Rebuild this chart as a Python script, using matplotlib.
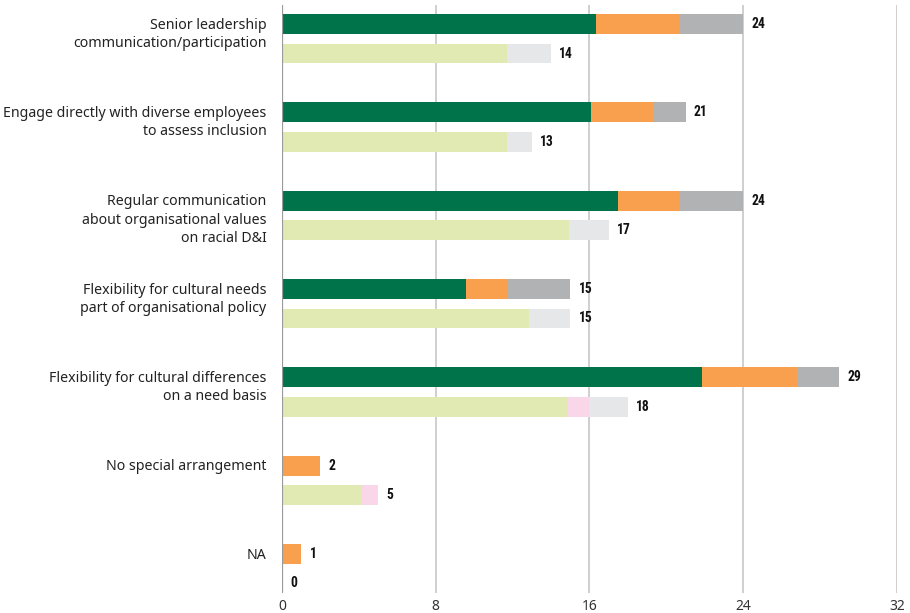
"""Stacked horizontal bars: inclusion practices, two rows per practice."""

import matplotlib

matplotlib.use("Agg")
import matplotlib.pyplot as plt

CATEGORIES = [
    "Senior leadership\ncommunication/participation",
    "Engage directly with diverse employees\nto assess inclusion",
    "Regular communication\nabout organisational values\non racial D&I",
    "Flexibility for cultural needs\npart of organisational policy",
    "Flexibility for cultural differences\non a need basis",
    "No special arrangement",
    "NA",
]

# upper row of each group
TOP_GREEN = [16.35, 16.07, 17.47, 9.57, 21.85, 0, 0]
TOP_ORANGE = [4.33, 3.24, 3.23, 2.18, 4.97, 2, 1]
TOP_GREY = [3.32, 1.69, 3.30, 3.25, 2.18, 0, 0]
TOP_TOTAL = [24, 21, 24, 15, 29, 2, 1]

# lower row of each group
LOW_GREEN = [11.72, 11.72, 14.93, 12.85, 14.90, 4.17, 0]
LOW_PINK = [0, 0, 0, 0, 1.05, 0.83, 0]
LOW_GREY = [2.28, 1.28, 2.07, 2.15, 2.05, 0, 0]
LOW_TOTAL = [14, 13, 17, 15, 18, 5, 0]

X_TICKS = [0, 8, 16, 24, 32]

C_GREEN = "#00734a"
C_ORANGE = "#f9a04f"
C_GREY = "#b0b2b4"
C_LGREEN = "#e0eab2"
C_PINK = "#fad7e8"
C_LGREY = "#e6e7e8"

BAR_H = 0.226
ROW_GAP = 0.334


def stack(ax, ys, parts, colors):
    left = [0.0] * len(ys)
    for vals, col in zip(parts, colors):
        ax.barh(ys, vals, height=BAR_H, left=left, color=col, linewidth=0)
        left = [a + b for a, b in zip(left, vals)]


def main() -> None:
    plt.rcParams["font.family"] = ["Noto Sans", "DejaVu Sans"]
    fig = plt.figure(figsize=(9.10, 6.13), dpi=100)
    ax = fig.add_axes([0.3099, 0.0326, 0.6758, 0.9592])

    n = len(CATEGORIES)
    y_top = list(range(n))
    y_low = [y + ROW_GAP for y in y_top]

    for x in X_TICKS[1:]:
        ax.axvline(x, color="#cccccc", lw=1.3, zorder=0)
    ax.axvline(0, color="#9a9a9a", lw=1.6, zorder=3)

    stack(ax, y_top, [TOP_GREEN, TOP_ORANGE, TOP_GREY], [C_GREEN, C_ORANGE, C_GREY])
    stack(ax, y_low, [LOW_GREEN, LOW_PINK, LOW_GREY], [C_LGREEN, C_PINK, C_LGREY])

    for ys, totals in ((y_top, TOP_TOTAL), (y_low, LOW_TOTAL)):
        for y, t in zip(ys, totals):
            ax.annotate(
                str(t), (t, y), xytext=(6, 0), textcoords="offset points",
                va="center", ha="left", fontsize=9.8, fontweight="bold",
                family=["Roboto Condensed", "Roboto", "DejaVu Sans"],
                color="#111111",
            )

    for y, label in zip(y_top, CATEGORIES):
        ax.annotate(
            label, (0, y), xytext=(-11, 4.6), textcoords="offset points",
            va="top", ha="right", fontsize=10.2, color="#222222",
            linespacing=1.32,
        )

    ax.set_xlim(0, 32)
    ax.set_ylim(6.442, -0.215)
    ax.set_xticks(X_TICKS)
    ax.set_xticklabels([str(t) for t in X_TICKS])
    ax.set_yticks([])
    ax.tick_params(axis="x", length=0, pad=4, labelsize=10, colors="#333333")
    for s in ax.spines.values():
        s.set_visible(False)

    fig.savefig("out.png", dpi=100)
    plt.close(fig)


if __name__ == "__main__":
    main()
